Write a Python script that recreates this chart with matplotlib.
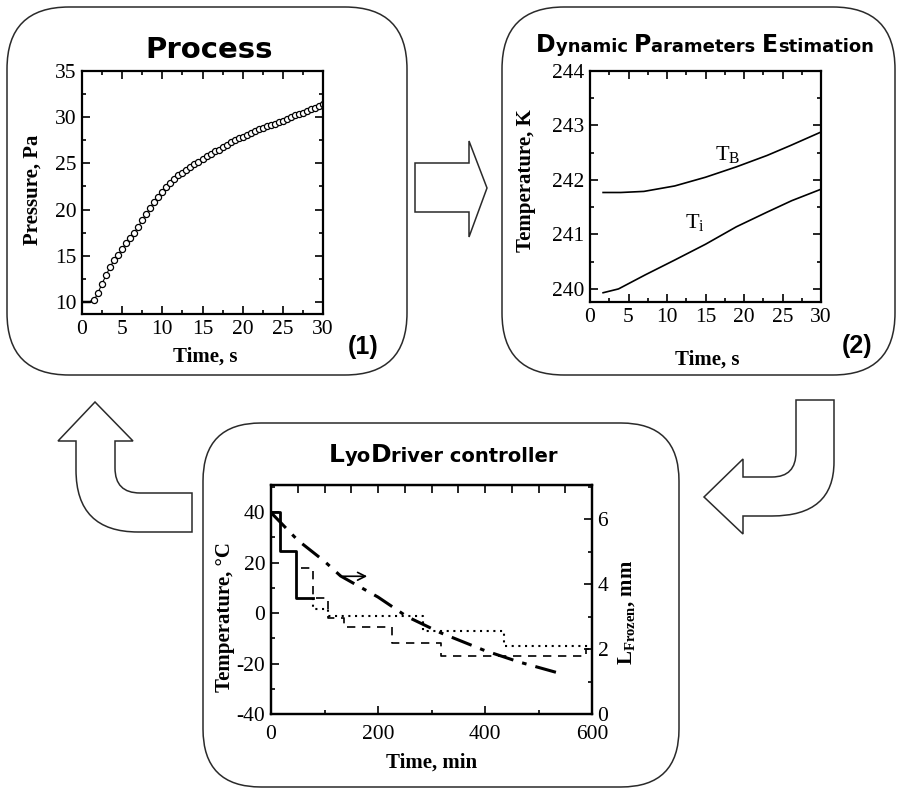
import numpy as np
import matplotlib
matplotlib.use("Agg")
import matplotlib.pyplot as plt
from matplotlib.patches import FancyBboxPatch, PathPatch
from matplotlib.path import Path
from matplotlib.ticker import MultipleLocator

plt.rcParams['font.family'] = ['Liberation Serif', 'DejaVu Serif']
plt.rcParams['mathtext.fontset'] = 'custom'
plt.rcParams['mathtext.rm'] = 'Liberation Serif'
plt.rcParams['mathtext.bf'] = 'Liberation Serif:bold'
plt.rcParams['axes.unicode_minus'] = False

# ---- (1) Process: chamber pressure rise ----
p_time = [1.5, 2.0, 2.5, 3.0, 3.5, 4.0, 4.5, 5.0, 5.5, 6.0, 6.5, 7.0, 7.5, 8.0,
          8.5, 9.0, 9.5, 10.0, 10.5, 11.0, 11.5, 12.0, 12.5, 13.0, 13.5, 14.0,
          14.5, 15.0, 15.5, 16.0, 16.5, 17.0, 17.5, 18.0, 18.5, 19.0, 19.5, 20.0,
          20.5, 21.0, 21.5, 22.0, 22.5, 23.0, 23.5, 24.0, 24.5, 25.0, 25.5, 26.0,
          26.5, 27.0, 27.5, 28.0, 28.5, 29.0, 29.5, 30.0]
p_meas = [10.2, 11.0, 12.0, 12.9, 13.8, 14.5, 15.1, 15.7, 16.4, 16.9, 17.5, 18.1, 18.9, 19.5,
          20.2, 20.8, 21.4, 21.9, 22.4, 22.9, 23.3, 23.7, 24.0, 24.3, 24.6, 24.9,
          25.2, 25.5, 25.8, 26.0, 26.3, 26.5, 26.8, 27.0, 27.3, 27.5, 27.7, 27.9,
          28.1, 28.3, 28.5, 28.7, 28.8, 29.0, 29.2, 29.3, 29.5, 29.6, 29.8, 30.0,
          30.2, 30.3, 30.5, 30.7, 30.9, 31.0, 31.2, 31.4]
p_start_time = [0.0, 1.0, 1.5]
p_start = [10.0, 10.0, 10.2]

# ---- (2) Estimated temperatures ----
tb_time = [1.7, 4.0, 7.0, 11.0, 15.0, 19.0, 23.0, 26.0, 30.0]
tb_vals = [241.77, 241.77, 241.79, 241.89, 242.05, 242.24, 242.45, 242.63, 242.88]
ti_time = [1.7, 3.7, 7.2, 11.0, 15.0, 19.0, 23.0, 26.2, 30.0]
ti_vals = [239.93, 240.0, 240.26, 240.53, 240.82, 241.14, 241.41, 241.62, 241.83]

# ---- (3) LyoDriver controller: shelf temperature steps and frozen layer ----
solid_t = [0, 17, 47, 79]
solid_T = [40, 24.5, 6.0, 6.0]
dashed_t = [57, 79, 107, 137, 227, 317, 588, 600]
dashed_T = [17.8, 6.0, -1.8, -5.5, -12.0, -16.9, -14.4, -14.4]
dotted_t = [79, 79, 107, 285, 435, 600]
dotted_T = [6.0, 1.5, -1.3, -7.0, -13.1, -13.1]
lfrozen_t = [0, 50, 100, 130, 200, 254, 317, 400, 464, 540]
lfrozen = [6.2, 5.35, 4.7, 4.25, 3.6, 3.0, 2.5, 1.95, 1.6, 1.25]

W, H = 899, 789
fig = plt.figure(figsize=(W / 100, H / 100), dpi=100)

# pixel-space layer for frames, arrows and titles
ov = fig.add_axes([0, 0, 1, 1], zorder=0)
ov.set_xlim(0, W)
ov.set_ylim(H, 0)
ov.axis('off')

def px_axes(left, top, right, bottom, z=2):
    return fig.add_axes([left / W, 1 - bottom / H, (right - left) / W, (bottom - top) / H], zorder=z)

def style(ax, **kw):
    ax.tick_params(which='both', direction='in', width=1.2, labelsize=15.5, pad=4, **kw)
    ax.tick_params(which='major', length=6)
    ax.tick_params(which='minor', length=3)
    for s in ax.spines.values():
        s.set_linewidth(1.6)

edge = '#2a2a2a'
for (x0, y0, x1, y1, rad) in [(7, 7, 407, 375, 62), (502, 7, 895, 375, 62), (203, 423, 679, 787, 58)]:
    ov.add_patch(FancyBboxPatch((x0, y0), x1 - x0, y1 - y0,
                                boxstyle=f'round,pad=0,rounding_size={rad}',
                                fc='none', ec=edge, lw=1.1, clip_on=False))

def arrow(verts_codes):
    verts = [v for v, c in verts_codes]
    codes = [c for v, c in verts_codes]
    ov.add_patch(PathPatch(Path(verts, codes), fc='white', ec=edge, lw=1.1))

M, L, C, Z = Path.MOVETO, Path.LINETO, Path.CURVE3, Path.CLOSEPOLY
# right arrow between (1) and (2)
arrow([((415, 163), M), ((469, 163), L), ((469, 141), L), ((487, 188), L),
       ((469, 237), L), ((469, 212), L), ((415, 212), L), ((415, 163), Z)])
# bent arrow from (2) down to controller
arrow([((796, 400), M), ((834, 400), L), ((834, 462), L), ((834, 516), C), ((772, 516), C),
       ((743, 516), L), ((743, 534), L), ((704, 497), L), ((743, 459), L), ((743, 477), L),
       ((772, 477), L), ((796, 477), C), ((796, 452), C), ((796, 400), Z)])
# bent arrow from controller back up to (1)
arrow([((95, 402), M), ((133, 441), L), ((115, 441), L), ((115, 468), L), ((115, 493), C),
       ((140, 493), C), ((192, 493), L), ((192, 532), L), ((138, 532), L), ((76, 532), C),
       ((76, 470), C), ((76, 441), L), ((58, 441), L), ((95, 402), Z)])

def mixed_title(xc, ybase, pieces):
    r = fig.canvas.get_renderer()
    texts, widths = [], []
    for s, size in pieces:
        t = ov.text(0, ybase, s, fontsize=size, fontweight='bold', family='DejaVu Sans',
                    ha='left', va='baseline')
        texts.append(t)
        widths.append(t.get_window_extent(r).width)
    x = xc - sum(widths) / 2
    for t, w in zip(texts, widths):
        t.set_x(x)
        x += w

ov.text(209, 58, 'Process', fontsize=21, fontweight='bold', family='DejaVu Sans',
        ha='center', va='baseline')
mixed_title(705, 52, [('D', 17), ('ynamic ', 13), ('P', 17), ('arameters ', 13),
                      ('E', 17), ('stimation', 13)])
mixed_title(443, 462, [('L', 18), ('yo', 14), ('D', 18), ('river controller', 14)])

lab = dict(fontsize=15, fontweight='bold', ha='center', va='center')
ov.text(33, 190, 'Pressure, Pa', rotation=90, **lab)
ov.text(205, 357, 'Time, s', **lab)
ov.text(526, 181, 'Temperature, K', rotation=90, **lab)
ov.text(707, 360, 'Time, s', **lab)
ov.text(225, 617, 'Temperature, °C', rotation=90, **lab)
ov.text(627, 612, r'$\mathbf{L}_{\mathbf{Frozen}}$, mm', rotation=90, **lab)
ov.text(432, 763, 'Time, min', **lab)
num = dict(fontsize=18, fontweight='bold', family='Liberation Sans', ha='center', va='center')
ov.text(363, 347, '(1)', **num)
ov.text(857, 346, '(2)', **num)

# ---- panel (1) ----
ax1 = px_axes(82, 71, 323, 314)
ax1.plot(p_start_time, p_start, color='black', lw=1.8)
ax1.plot(p_time, p_meas, color='black', lw=0.8, marker='o', ms=4.4, mfc='white',
         mec='black', mew=0.9)
ax1.set_xlim(0, 30)
ax1.set_ylim(8.7, 35)
ax1.xaxis.set_major_locator(MultipleLocator(5))
ax1.xaxis.set_minor_locator(MultipleLocator(2.5))
ax1.yaxis.set_major_locator(MultipleLocator(5))
ax1.yaxis.set_minor_locator(MultipleLocator(2.5))
ax1.set_yticks([10, 15, 20, 25, 30, 35])
style(ax1, top=True, right=True)

# ---- panel (2) ----
ax2 = px_axes(590, 71, 821, 302)
ax2.plot(tb_time, tb_vals, color='black', lw=1.2)
ax2.plot(ti_time, ti_vals, color='black', lw=1.2)
ax2.text(16.2, 242.45, r'$\mathrm{T}_{\mathrm{B}}$', fontsize=16, ha='left', va='center')
ax2.text(12.3, 241.2, r'$\mathrm{T}_{\mathrm{i}}$', fontsize=16, ha='left', va='center')
ax2.set_xlim(0, 30)
ax2.set_ylim(239.76, 244)
ax2.xaxis.set_major_locator(MultipleLocator(5))
ax2.xaxis.set_minor_locator(MultipleLocator(2.5))
ax2.yaxis.set_major_locator(MultipleLocator(1))
ax2.yaxis.set_minor_locator(MultipleLocator(0.5))
style(ax2, top=True, right=True)

# ---- panel (3) ----
ax3 = px_axes(271, 485, 592, 714)
ax3.plot(solid_t, solid_T, color='black', lw=2.0, drawstyle='steps-post')
ax3.plot(dashed_t, dashed_T, color='black', lw=1.2, ls=(0, (5, 4)), drawstyle='steps-post')
ax3.plot(dotted_t, dotted_T, color='black', lw=1.5, ls=(0, (1, 2.2)), drawstyle='steps-post')
ax3.set_xlim(0, 600)
ax3.set_ylim(-40, 50.7)
ax3.set_xticks([0, 200, 400, 600])
ax3.xaxis.set_minor_locator(MultipleLocator(100))
ax3.set_yticks([-40, -20, 0, 20, 40])
ax3.yaxis.set_minor_locator(MultipleLocator(10))
style(ax3, right=False)
ax3.tick_params(axis='x', pad=8)
top = ax3.secondary_xaxis('top')
top.set_xticks(np.arange(50, 600, 50))
top.tick_params(direction='in', length=6, width=1.2, labeltop=False)

ax3r = ax3.twinx()
ax3r.set_zorder(3)
ax3r.patch.set_visible(False)
ax3r.plot(lfrozen_t, lfrozen, color='black', lw=2.2, ls=(0, (7, 3, 1.5, 3)))
ax3r.annotate('', xy=(185, 4.24), xytext=(130, 4.24),
              arrowprops=dict(arrowstyle='->', color='black', lw=1.2, mutation_scale=14))
ax3r.set_ylim(0, 7.05)
ax3r.set_yticks([0, 2, 4, 6])
ax3r.yaxis.set_minor_locator(MultipleLocator(1))
style(ax3r, left=False)

fig.savefig('out.png', dpi=100)
